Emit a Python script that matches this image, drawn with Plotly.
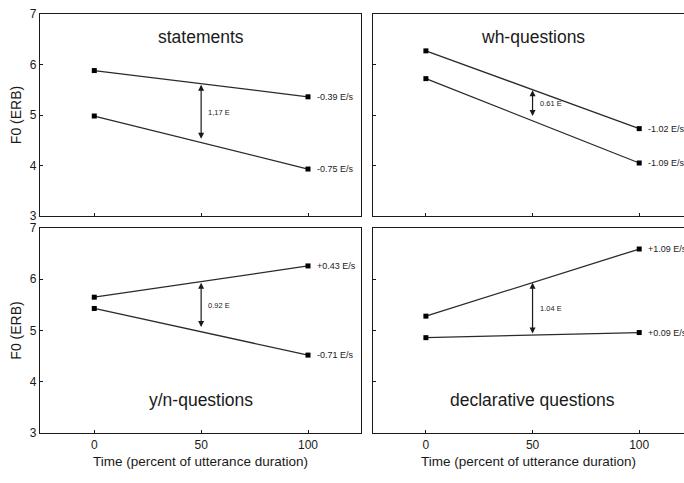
import plotly.graph_objects as go

# ---- data ----
time_pts = [0, 100]
arrow_time = 50
panel_titles = ["statements", "wh-questions", "y/n-questions", "declarative questions"]

upper_vals = [[5.88, 5.36], [6.27, 4.73], [5.65, 6.26], [5.28, 6.59]]
lower_vals = [[4.98, 3.93], [5.72, 4.05], [5.43, 4.52], [4.86, 4.96]]
upper_slopes = ["-0.39 E/s", "-1.02 E/s", "+0.43 E/s", "+1.09 E/s"]
lower_slopes = ["-0.75 E/s", "-1.09 E/s", "-0.71 E/s", "+0.09 E/s"]
arrow_top = [5.60, 5.49, 5.93, 5.93]
arrow_bottom = [4.50, 4.95, 5.04, 4.91]
gap_labels = ["1,17 E", "0.61 E", "0.92 E", "1.04 E"]

x_ticks = [0, 50, 100]
y_ticks = [3, 4, 5, 6, 7]

W, H = 684, 483
FONT = "Liberation Sans, Arial, Helvetica, sans-serif"
INK = "#1a1a1a"

# panel pixel boxes: (left, right, top, bottom)
boxes = [(40, 361, 14, 216), (373, 684, 14, 216),
         (40, 361, 228, 433), (373, 684, 228, 433)]
xranges = [[-25.4, 124.8], [-24.8, 121.0], [-25.4, 124.8], [-24.8, 121.0]]
title_y = [6.54, 6.54, 3.64, 3.64]

fig = go.Figure()
layout = dict(width=W, height=H, margin=dict(l=0, r=0, t=0, b=0),
              paper_bgcolor="white", plot_bgcolor="white", showlegend=False,
              font=dict(family=FONT, color=INK))
annotations = []

for i in range(4):
    n = "" if i == 0 else str(i + 1)
    xa, ya = "x" + n, "y" + n
    l, r, t, b = boxes[i]
    left_col = i in (0, 2)
    bottom_row = i in (2, 3)
    layout["xaxis" + n] = dict(
        domain=[l / W, r / W], range=xranges[i], anchor=ya, automargin=False,
        tickvals=x_ticks, showticklabels=bottom_row, ticks="inside", ticklen=3,
        tickcolor=INK, showline=True, linecolor=INK, linewidth=1.2, mirror=True,
        showgrid=False, zeroline=False, tickfont=dict(size=12, family=FONT),
        title=dict(text="Time (percent of utterance duration)" if bottom_row else "",
                   font=dict(size=13.5, family=FONT), standoff=6))
    layout["yaxis" + n] = dict(
        domain=[1 - b / H, 1 - t / H], range=[3, 7], anchor=xa, automargin=False,
        tickvals=y_ticks, showticklabels=left_col, ticks="inside", ticklen=3,
        tickcolor=INK, showline=True, linecolor=INK, linewidth=1.2, mirror=True,
        showgrid=False, zeroline=False, tickfont=dict(size=12, family=FONT),
        title=dict(text="F0 (ERB)" if left_col else "",
                   font=dict(size=14, family=FONT), standoff=4))

    for vals in (upper_vals[i], lower_vals[i]):
        fig.add_trace(go.Scatter(x=time_pts, y=vals, mode="lines+markers",
                                 line=dict(color="#2a2a2a", width=1.3),
                                 marker=dict(symbol="square", size=5, color="black"),
                                 xaxis=xa, yaxis=ya, hoverinfo="skip"))

    # slope labels
    for vals, txt in ((upper_vals[i], upper_slopes[i]), (lower_vals[i], lower_slopes[i])):
        annotations.append(dict(x=time_pts[-1], y=vals[-1], xref=xa, yref=ya,
                                text=txt, showarrow=False, xanchor="left",
                                xshift=7, font=dict(size=9, family=FONT, color=INK)))

    # double-headed arrow
    annotations.append(dict(x=arrow_time, y=arrow_top[i], ax=arrow_time, ay=arrow_bottom[i],
                            xref=xa, yref=ya, axref=xa, ayref=ya, text="",
                            showarrow=True, arrowhead=2, arrowside="end+start",
                            arrowsize=1, arrowwidth=1.2, arrowcolor=INK))
    annotations.append(dict(x=arrow_time, y=(arrow_top[i] + arrow_bottom[i]) / 2,
                            xref=xa, yref=ya, text=gap_labels[i], showarrow=False,
                            xanchor="left", xshift=5,
                            font=dict(size=7.5, family=FONT, color=INK)))

    # panel title
    annotations.append(dict(x=50, y=title_y[i], xref=xa, yref=ya, text=panel_titles[i],
                            showarrow=False, font=dict(size=17.5, family=FONT, color=INK)))

layout["annotations"] = annotations
fig.update_layout(**layout)
fig.write_html("out.html",
               config={"displayModeBar": False},
               post_script="document.body.style.margin='0';"
                           "document.body.style.overflow='hidden';")
